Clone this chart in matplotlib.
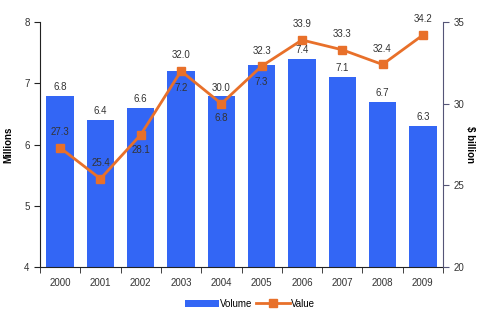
import numpy as np
import matplotlib
matplotlib.use("Agg")
import matplotlib.pyplot as plt
from matplotlib.ticker import FixedLocator

plt.rcParams['font.family'] = ['Liberation Sans', 'DejaVu Sans']

years = ['2000', '2001', '2002', '2003', '2004', '2005', '2006', '2007', '2008', '2009']
volume = [6.8, 6.4, 6.6, 7.2, 6.8, 7.3, 7.4, 7.1, 6.7, 6.3]
value = [27.3, 25.4, 28.1, 32.0, 30.0, 32.3, 33.9, 33.3, 32.4, 34.2]

bar_color = '#3366f5'
line_color = '#e8702a'
text_color = '#333333'

fig = plt.figure(figsize=(5, 3.24), dpi=100)
ax = fig.add_axes([0.08, 0.176, 0.806, 0.756])
ax2 = ax.twinx()

x = np.arange(len(years))
bars = ax.bar(x, volume, width=0.68, color=bar_color, zorder=2, label='Volume')
ax.set_ylim(4, 8)
ax.set_xlim(-0.5, len(years) - 0.5)
ax.set_yticks([4, 5, 6, 7, 8])
ax.set_xticks(x)
ax.set_xticklabels(years)
ax.xaxis.set_minor_locator(FixedLocator(np.arange(-0.5, len(years), 1.0)))
ax.tick_params(axis='x', which='major', length=0, pad=8, labelsize=7, labelcolor=text_color)
ax.tick_params(axis='x', which='minor', length=4, color='#222222')
ax.tick_params(axis='y', length=4, labelsize=7, labelcolor=text_color, color='#222222')
ax.set_ylabel('Millions', fontsize=7, fontweight='bold', labelpad=8)

line, = ax2.plot(x, value, color=line_color, lw=2.0, marker='s', markersize=5.5,
                 zorder=3, label='Value')
ax2.set_ylim(20, 35)
ax2.set_yticks([20, 25, 30, 35])
ax2.tick_params(axis='y', length=4, labelsize=7, labelcolor=text_color, color='#555577')
ax2.set_ylabel('$ billion', fontsize=7, fontweight='bold', rotation=-90, labelpad=8)

for a in (ax, ax2):
    a.spines['top'].set_visible(False)
ax.spines['left'].set_color('#222222')
ax.spines['bottom'].set_color('#222222')
ax.spines['right'].set_visible(False)
ax2.spines['left'].set_visible(False)
ax2.spines['bottom'].set_visible(False)
ax2.spines['right'].set_color('#555577')

# volume labels (drawn on ax2 so they sit above the line):
# above the bar unless the value marker sits there
inside = {3: 0.2, 4: 0.28, 5: 0.2}
for i, v in enumerate(volume):
    if i in inside:
        ax2.text(i, v - inside[i], f'{v:.1f}', ha='center', va='top', fontsize=7,
                 color=text_color, zorder=5, transform=ax.transData)
    else:
        ax2.text(i, v + 0.06, f'{v:.1f}', ha='center', va='bottom', fontsize=7,
                 color=text_color, zorder=5, transform=ax.transData)

# value labels: above the marker, except 2002 which goes below
for i, v in enumerate(value):
    if i == 2:
        ax2.text(i, v - 0.6, f'{v:.1f}', ha='center', va='top', fontsize=7, color=text_color, zorder=5)
    else:
        ax2.text(i, v + 0.65, f'{v:.1f}', ha='center', va='bottom', fontsize=7, color=text_color, zorder=5)

fig.legend(handles=[bars, line], labels=['Volume', 'Value'], loc='lower center',
           bbox_to_anchor=(0.5, 0.02), ncol=2, frameon=False, fontsize=7,
           handlelength=3.5, columnspacing=0.3, handletextpad=0.1)

fig.savefig('out.png', dpi=100)
